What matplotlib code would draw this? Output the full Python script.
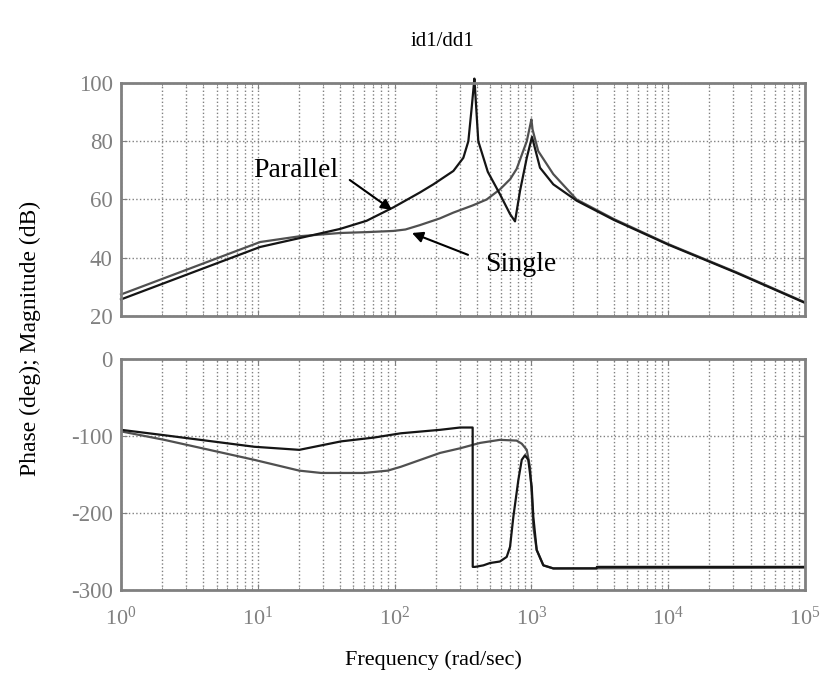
import numpy as np
import matplotlib
matplotlib.use("Agg")
import matplotlib.pyplot as plt

plt.rcParams["font.family"] = ["Liberation Serif", "DejaVu Serif"]
plt.rcParams["mathtext.fontset"] = "custom"
plt.rcParams["mathtext.rm"] = "Liberation Serif"
plt.rcParams["mathtext.it"] = "Liberation Serif:italic"

# magnitude (dB)
par_mag_f = [1, 10.4, 20, 40, 62.5, 98, 153, 192, 269, 318, 346, 366, 377, 383, 392, 409, 480,
             589, 698, 759, 826, 925, 1010, 1156, 1446, 2140, 4000, 10000, 31600, 100000]
par_mag = [25.7, 43.7, 46.7, 49.9, 52.7, 57.3, 62.4, 65.2, 69.8, 74.3, 80, 91.5, 98, 101.5, 94, 80, 69.5,
           61.8, 55, 52.5, 63, 74.3, 81.5, 70.9, 65.2, 59.6, 53, 44.5, 34.8, 24.5]

sgl_mag_f = [1, 10.4, 20.4, 40, 62.5, 98, 120, 153, 214, 269, 374, 471, 590, 700, 780, 925, 985, 1000,
             1020, 1122, 1446, 2140, 4000, 10000, 31600, 100000]
sgl_mag = [27.4, 45.4, 47.4, 48.5, 48.8, 49.2, 49.7, 51.2, 53.5, 55.5, 58, 60, 63.5, 67, 70.5, 80, 86, 87.5,
           84, 76.6, 68.7, 60, 53.3, 44.7, 35, 24.7]

# phase (deg)
par_ph_f = [1, 2.07, 9.43, 20.1, 40.6, 50.8, 71, 111, 215, 301, 372, 372.5, 387, 446, 498, 589, 660,
            698, 738, 803, 850, 898, 949, 1005, 1033, 1093, 1223, 1446, 3000, 3010, 100000]
par_ph = [-92, -99, -114, -118, -107, -105, -102, -96.5, -92, -89, -89, -270, -270, -268, -265, -263, -257,
          -244, -205, -157, -131, -125, -131, -166, -205, -248, -268, -272, -272, -270, -270]

sgl_ph_f = [1, 2.07, 9.43, 20.1, 29, 60, 89, 111, 215, 301, 421, 589, 780, 850, 925, 977, 1005, 1033,
            1093, 1223, 1446, 100000]
sgl_ph = [-94, -105, -131, -145, -148, -148, -145, -140, -122, -116, -109, -105, -106, -110, -118, -141,
          -174, -218, -248, -268, -272, -271]

GRAY = "#808080"
PAR_COLOR = "#151515"
SGL_COLOR = "#505050"


def style_axes(ax, yticks):
    ax.set_xscale("log")
    ax.set_xlim(1, 1e5)
    ax.set_yticks(yticks)
    ax.grid(True, which="major", color=GRAY, linestyle=":", linewidth=1.0)
    ax.grid(True, which="minor", axis="x", color=GRAY, linestyle=":", linewidth=1.0)
    for s in ax.spines.values():
        s.set_color(GRAY)
        s.set_linewidth(2.0)
    ax.tick_params(which="both", direction="in", top=True, right=True, colors=GRAY, length=4)
    ax.tick_params(which="minor", length=2)
    ax.tick_params(axis="y", labelsize=16.5, pad=6)
    ax.tick_params(axis="x", labelsize=16, pad=12)


fig = plt.figure(figsize=(8.21, 6.79), dpi=100)
ax1 = fig.add_axes([0.1474, 0.5346, 0.8331, 0.3432])
ax2 = fig.add_axes([0.1474, 0.1311, 0.8331, 0.3402])

ax1.plot(sgl_mag_f, sgl_mag, color=SGL_COLOR, linewidth=1.6, clip_on=False)
ax1.plot(par_mag_f, par_mag, color=PAR_COLOR, linewidth=1.6, clip_on=False)
ax1.set_ylim(20, 100)
style_axes(ax1, [20, 40, 60, 80, 100])
ax1.set_xticklabels([])

ax2.plot(sgl_ph_f, sgl_ph, color=SGL_COLOR, linewidth=1.6)
ax2.plot(par_ph_f, par_ph, color=PAR_COLOR, linewidth=1.6)
ax2.set_ylim(-300, 0)
style_axes(ax2, [-300, -200, -100, 0])
ax2.set_yticklabels(["-300", "-200", "-100", "0"])

arrow = dict(arrowstyle="-|>", color="k", lw=1.5, mutation_scale=16, shrinkA=0, shrinkB=0)
ax1.annotate("", xy=(95.7, 56.4), xytext=(47, 66.7), arrowprops=arrow)
ax1.text(9.2, 70, "Parallel", fontsize=20, ha="left", va="center")
ax1.annotate("", xy=(134, 48.5), xytext=(344, 41), arrowprops=arrow)
ax1.text(458, 37.6, "Single", fontsize=20, ha="left", va="center")

fig.text(442 / 821, 1 - 42 / 679, "id1/dd1", ha="center", va="center", fontsize=15)
fig.text(433 / 821, 1 - 660 / 679, "Frequency (rad/sec)", ha="center", va="center", fontsize=16)
fig.text(30 / 821, 1 - 338 / 679, "Phase (deg); Magnitude (dB)", ha="center", va="center",
         rotation=90, fontsize=17)

fig.savefig("out.png", dpi=100)
